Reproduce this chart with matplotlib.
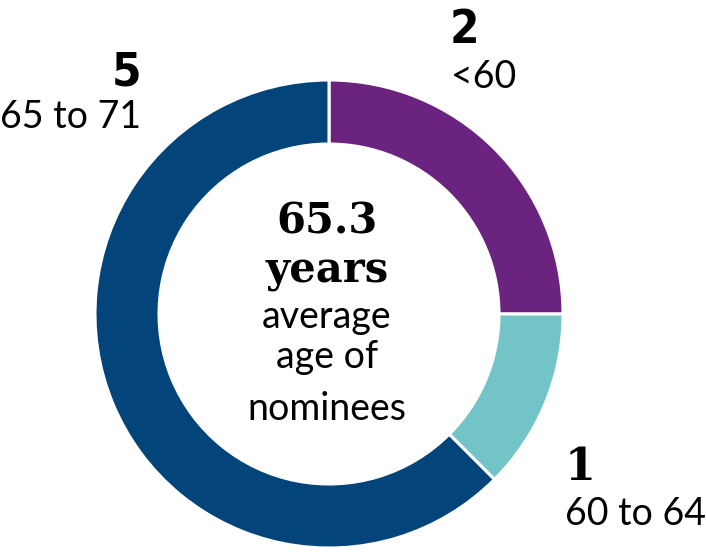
import matplotlib.pyplot as plt

# data
counts = [2, 1, 5]
groups = ["<60", "60 to 64", "65 to 71"]
colors = ["#6A2480", "#72C4C7", "#03457A"]
avg_age = "65.3"

W, H = 706, 554
fig = plt.figure(figsize=(W / 100, H / 100), dpi=100)
ax = fig.add_axes([0, 0, 1, 1])

cx, cy, R = 329, 240, 234
ax.pie(counts, colors=colors, startangle=90, counterclock=False,
       center=(cx, cy), radius=R, frame=True,
       wedgeprops=dict(width=64, edgecolor='white', linewidth=2.2))
ax.set_xlim(0, W)
ax.set_ylim(0, H)
ax.set_aspect('equal')
ax.axis('off')

big = dict(family='DejaVu Sans', stretch='condensed', weight='bold', fontsize=34, color='black')
slab = dict(family='DejaVu Serif', weight='bold', color='black')
reg = dict(family='Lato', fontsize=27, color='black')

# labels around the ring
ax.text(464, 511, str(counts[0]), ha='center', va='baseline', **big)
ax.text(451, 466, groups[0], ha='left', va='baseline', **reg)
ax.text(565, 74, str(counts[1]), ha='left', va='baseline', fontsize=32, **slab)
ax.text(565, 29, groups[1], ha='left', va='baseline', **reg)
ax.text(141, 469, str(counts[2]), ha='right', va='baseline', **big)
ax.text(141, 426, groups[2], ha='right', va='baseline', **reg)

# centre text
ax.text(cx - 2, 321, avg_age, ha='center', va='baseline', fontsize=30, **slab)
ax.text(cx - 2, 272, "years", ha='center', va='baseline', fontsize=30, **slab)
ax.text(cx - 2, 226, "average", ha='center', va='baseline', **reg)
ax.text(cx - 2, 186, "age of", ha='center', va='baseline', **reg)
ax.text(cx - 2, 134, "nominees", ha='center', va='baseline', **reg)

fig.savefig("out.png", dpi=100, facecolor='white')
